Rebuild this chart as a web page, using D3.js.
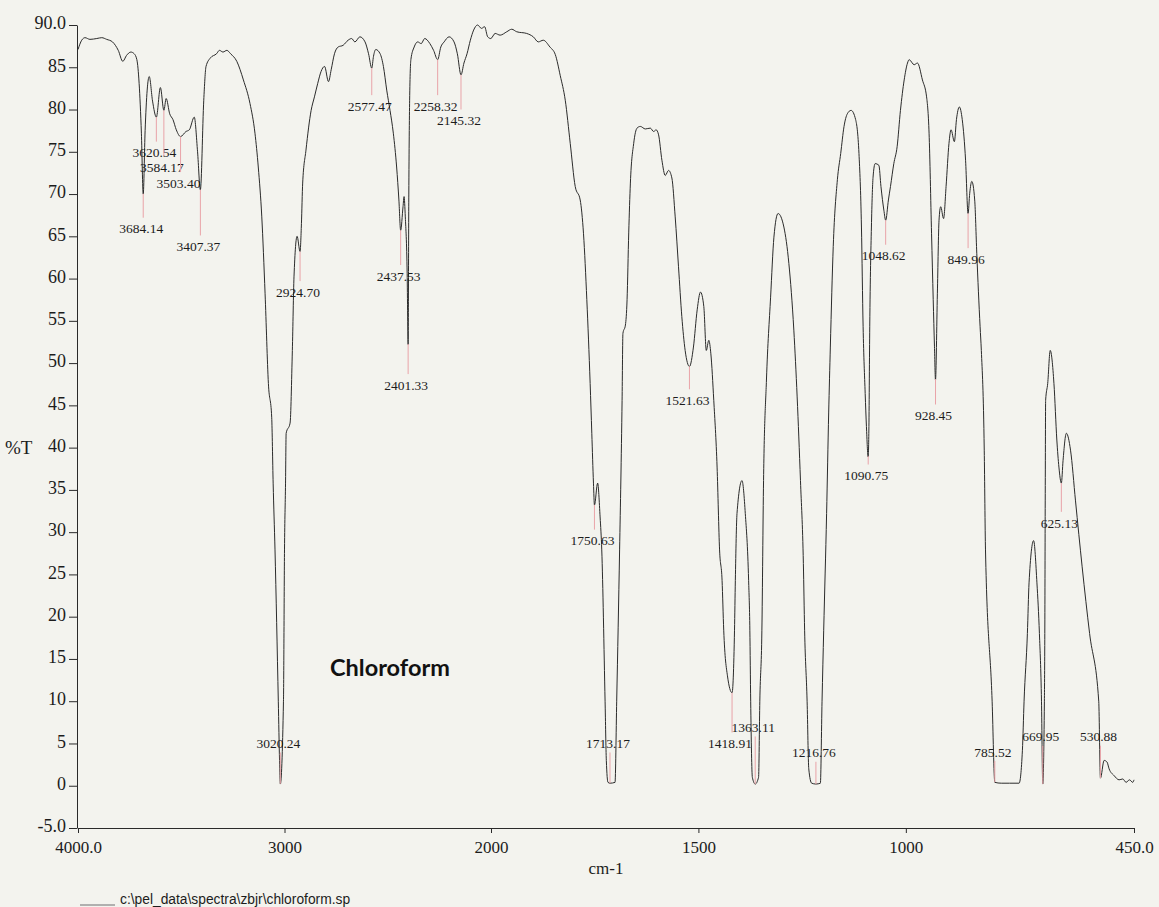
<!DOCTYPE html>
<html>
<head>
<meta charset="utf-8">
<script src="https://cdn.jsdelivr.net/npm/d3@7"></script>
<style>
  body { margin: 0; background: #f3f3ee; }
  svg { display: block; }
  text { font-family: "Liberation Serif", "Times New Roman", serif; fill: #1c1c1c; }
</style>
</head>
<body>
<svg id="chart" width="1159" height="907"></svg>
<script>
// [wavenumber cm-1, %T]
const spectrum = [
  [4000, 87.1], [3982, 88.2], [3966, 88.5], [3942, 88.3], [3909, 88.4], [3885, 88.5], [3861, 88.3],
  [3833, 88.0], [3805, 87.0], [3783, 85.7], [3765, 86.4], [3744, 86.8], [3728, 86.6], [3715, 85.9],
  [3704, 83.1], [3693, 77.2], [3684.1, 70.0], [3675, 77.5], [3655, 83.9], [3639, 81.0], [3620.5, 79.1],
  [3601, 82.6], [3584.2, 79.9], [3573, 81.3], [3556, 79.5], [3540, 78.8], [3524, 77.6], [3503.4, 76.8],
  [3477, 77.4], [3461, 77.6], [3437, 79.1], [3421, 75.0], [3407.4, 70.5], [3391, 81.1], [3380, 85.1],
  [3359, 86.1], [3329, 86.6], [3315, 87.0], [3298, 86.8], [3279, 87.0], [3261, 86.6], [3231, 85.7],
  [3199, 83.5], [3167, 80.7], [3143, 77.2], [3127, 73.2], [3110, 67.3], [3094, 58.2], [3078, 47.6],
  [3062, 43.6], [3055, 35.8], [3046, 27.9], [3030, 10], [3024, 3], [3020.2, 0.2], [3005, 10],
  [3000, 27.9], [2995, 35.8], [2992, 41.7], [2973, 42.9], [2962, 51.5], [2954, 60.2], [2939, 65.0],
  [2924.7, 63.2], [2918, 66.5], [2912, 71.3], [2896, 75.2], [2871, 79.9], [2855, 81.5], [2839, 83.1],
  [2823, 84.5], [2806, 85.1], [2787, 83.3], [2774, 84.7], [2758, 86.6], [2740, 87.4], [2716, 87.6],
  [2692, 88.2], [2675, 88.4], [2659, 88.0], [2635, 88.6], [2610, 88.0], [2593, 86.6], [2577.5, 84.9],
  [2569, 86.3], [2558, 87.1], [2537, 86.6], [2521, 85.1], [2505, 82.3], [2489, 79.9], [2473, 77.2],
  [2457, 73.2], [2446, 69.3], [2437.5, 65.7], [2426, 68.5], [2421, 69.7], [2415, 67.3], [2406, 60.6],
  [2401.3, 52.2], [2398, 70], [2394, 81.1], [2388, 85.9], [2372, 87.4], [2355, 88.0], [2338, 87.8],
  [2321, 88.4], [2296, 87.8], [2278, 87.0], [2258.3, 85.9], [2243, 87.4], [2227, 88.0], [2203, 88.6],
  [2179, 88.0], [2163, 86.6], [2145.3, 84.1], [2131, 85.5], [2116, 86.6], [2100, 88.2], [2084, 89.4],
  [2065, 90.0], [2046, 89.6], [2031, 89.8], [2016, 88.6], [2001, 88.4], [1990, 89.0], [1978, 88.8],
  [1962, 89.2], [1950, 89.5], [1938, 89.2], [1914, 89.0], [1898, 88.6], [1886, 88.0], [1874, 88.2],
  [1858, 87.4], [1845, 86.5], [1833, 84.0], [1821, 81.1], [1809, 76.0], [1797, 70.9], [1785, 69.3],
  [1777, 65.3], [1769, 57.5], [1761, 47.6], [1757, 41.7], [1753, 35.8], [1750.6, 33.2], [1743, 35.8],
  [1737, 31.8], [1733, 27.9], [1725, 10], [1722, 3], [1718, 0.4], [1713.2, 0.3], [1701, 0.4],
  [1697, 10], [1690, 27.9], [1684, 45.6], [1682, 53.5], [1676, 54.5], [1672, 57.5], [1668, 65.4],
  [1664, 71.3], [1656, 76.0], [1648, 77.8], [1640, 78.0], [1628, 77.7], [1616, 77.8], [1608, 77.4],
  [1602, 77.6], [1596, 77.0], [1588, 74.0], [1580, 72.2], [1572, 72.8], [1564, 71.9], [1556, 67.3],
  [1548, 61.4], [1540, 55.5], [1532, 51.5], [1521.6, 49.6], [1512, 51.9], [1503, 56.3], [1495, 58.4],
  [1487, 56.7], [1481, 51.5], [1475, 52.7], [1470, 51.1], [1463, 45.6], [1455, 37.7], [1449, 27.9],
  [1443, 24.3], [1439, 18.4], [1430, 13], [1418.9, 11], [1413, 18.4], [1411, 24.3], [1407, 32.2],
  [1395, 36.1], [1387, 32.2], [1379, 24.3], [1376, 18.4], [1374, 10], [1370, 1], [1363.1, 0.2],
  [1355, 1], [1352, 10], [1347, 18.4], [1343, 36.1], [1336, 48], [1326, 57.8], [1318, 64.9],
  [1308, 67.7], [1294, 66.1], [1282, 61.8], [1270, 53.9], [1262, 46.0], [1254, 36.1], [1247, 26.3],
  [1244, 18.4], [1238, 10], [1234, 2], [1227, 0.3], [1216.8, 0.2], [1206, 0.3], [1202, 10],
  [1198, 18.4], [1191, 32.2], [1186, 44.1], [1182, 51.9], [1175, 63.8], [1165, 71.7], [1157, 74.8],
  [1149, 78.0], [1141, 79.5], [1132, 79.9], [1121, 78.8], [1113, 74.8], [1107, 66.1], [1103, 54.3],
  [1098, 46.4], [1095, 42.5], [1090.8, 38.9], [1089, 42.5], [1087, 54.3], [1083, 66.1], [1079, 72.0],
  [1074, 73.6], [1065, 73.4], [1060, 70.9], [1053, 68.1], [1048.6, 66.9], [1042, 69.3], [1037, 70.9],
  [1029, 73.6], [1021, 75.6], [1013, 79.9], [1004, 83.5], [996, 85.5], [992, 85.9], [980, 85.3],
  [972, 85.5], [960, 83.5], [950, 81.5], [944, 77.2], [938, 65.3], [934, 57.5], [931, 52],
  [928.5, 48.0], [924, 58.2], [920, 66.9], [916, 68.5], [909, 67.1], [903, 70.9], [896, 76.0],
  [891, 77.6], [883, 76.2], [878, 78.8], [871, 80.3], [864, 78.8], [856, 74.0], [850, 67.7],
  [846, 70.1], [841, 71.5], [834, 69.3], [829, 63.0], [821, 54.3], [818, 51.5], [811, 39.7],
  [808, 27.9], [792, 10], [785.5, 0.4], [770, 0.3], [750, 0.3], [727, 0.3], [719, 4.2],
  [715, 10], [707, 18], [703, 24], [692, 29.0], [684, 24], [678, 18], [673, 10], [669.95, 0.2],
  [666, 10], [665, 18], [664, 33.7], [663, 45.6], [658, 47.6], [652, 51.5], [643, 47.6], [636, 40.9],
  [631, 37.7], [625.1, 35.8], [621, 38.5], [613, 41.7], [603, 39.7], [591, 33.7], [575, 25.9],
  [557, 18.0], [535, 10], [530.9, 0.9], [522, 3.0], [515, 2.8], [510, 2.0], [498, 1.2], [486, 0.7],
  [477, 0.8], [469, 0.4], [461, 0.7], [453, 0.4], [450, 0.7]
];

// peak picks and the %T level their label sits at
const peakWavenumbers = [3684.14, 3620.54, 3584.17, 3503.40, 3407.37, 3020.24, 2924.70, 2577.47,
  2437.53, 2401.33, 2258.32, 2145.32, 1750.63, 1713.17, 1521.63, 1418.91, 1363.11, 1216.76,
  1090.75, 1048.62, 928.45, 849.96, 785.52, 669.95, 625.13, 530.88];
const peakLabelLevels = [65.9, 74.9, 73.2, 71.3, 63.8, 5.0, 58.4, 80.4,
  60.3, 47.4, 80.4, 78.7, 29.0, 5.0, 45.6, 5.0, 6.9, 3.9,
  36.7, 62.7, 43.8, 62.3, 4.0, 5.8, 31.1, 5.8];

const xTicks = [4000, 3000, 2000, 1500, 1000, 450];
const xTickLabels = ["4000.0", "3000", "2000", "1500", "1000", "450.0"];
const yTicks = [90, 85, 80, 75, 70, 65, 60, 55, 50, 45, 40, 35, 30, 25, 20, 15, 10, 5, 0, -5];
const yTickLabels = ["90.0", "85", "80", "75", "70", "65", "60", "55", "50", "45", "40", "35",
  "30", "25", "20", "15", "10", "5", "0", "-5.0"];

const svg = d3.select("#chart");

// instrument plots 4000-2000 at half the scale of 2000-450
const x = d3.scaleLinear().domain([4000, 2000, 450]).range([78, 491, 1134]);
const y = d3.scaleLinear().domain([-5, 90]).range([828, 25]);

const axisColor = "#2a2a2a";

// y axis
const yAxis = svg.append("g")
  .attr("transform", "translate(77,0)")
  .call(d3.axisLeft(y).tickValues(yTicks).tickSize(8).tickSizeOuter(0).tickPadding(3)
    .tickFormat((d, i) => yTickLabels[i]));
yAxis.select(".domain").attr("stroke", axisColor);
yAxis.selectAll(".tick line").attr("stroke", axisColor);
yAxis.selectAll("text")
  .style("font-family", "'Liberation Serif', serif")
  .style("font-size", "18px")
  .attr("fill", "#1c1c1c")
  .attr("y", -2);

// x axis
const xAxis = svg.append("g")
  .attr("transform", "translate(0,828)")
  .call(d3.axisBottom(x).tickValues(xTicks).tickSize(5).tickSizeOuter(0)
    .tickFormat((d, i) => xTickLabels[i]));
xAxis.select(".domain").attr("stroke", axisColor);
xAxis.selectAll(".tick line").attr("stroke", axisColor);
xAxis.selectAll("text")
  .style("font-family", "'Liberation Serif', serif")
  .style("font-size", "17px")
  .attr("fill", "#1c1c1c")
  .attr("y", 19)
  .attr("dy", "0.35em");

svg.append("text")
  .attr("x", 606).attr("y", 868).attr("dy", "0.35em")
  .attr("text-anchor", "middle")
  .style("font-size", "17px")
  .text("cm-1");

svg.append("text")
  .attr("x", 5).attr("y", y(40)).attr("dy", "0.35em")
  .style("font-size", "19px")
  .text("%T");

// the spectrum
const line = d3.line()
  .x(d => x(d[0]))
  .y(d => y(d[1]))
  .curve(d3.curveMonotoneX);

svg.append("path")
  .datum(spectrum)
  .attr("fill", "none")
  .attr("stroke", "#2b2b2b")
  .attr("stroke-width", 1)
  .attr("stroke-linejoin", "round")
  .attr("d", line);

// %T of the trace at a wavenumber
const desc = spectrum.slice().reverse();
const bis = d3.bisector(d => d[0]).left;
function traceAt(w) {
  const i = bis(desc, w);
  if (i <= 0) return desc[0][1];
  if (i >= desc.length) return desc[desc.length - 1][1];
  const a = desc[i - 1], b = desc[i];
  return a[1] + (b[1] - a[1]) * (w - a[0]) / (b[0] - a[0]);
}

// peak markers and labels
const peaks = peakWavenumbers.map((w, i) => ({w: w, level: peakLabelLevels[i], t: traceAt(w)}));

const pk = svg.append("g").selectAll("g")
  .data(peaks)
  .enter().append("g");

pk.append("line")
  .attr("x1", d => x(d.w))
  .attr("x2", d => x(d.w))
  .attr("y1", d => y(d.t))
  .attr("y2", d => d.level < d.t ? y(d.level) - 11 : y(d.level) + 9)
  .attr("stroke", "#e9a3a8")
  .attr("stroke-width", 1);

pk.append("text")
  .attr("x", d => x(d.w) - 2)
  .attr("y", d => y(d.level))
  .attr("dy", "0.35em")
  .attr("text-anchor", "middle")
  .style("font-size", "13.5px")
  .text(d => d.w.toFixed(2));

svg.append("text")
  .attr("x", 330).attr("y", 668).attr("dy", "0.35em")
  .style("font-family", "Lato, 'Open Sans', sans-serif")
  .style("font-weight", "bold")
  .style("font-size", "23.5px")
  .style("fill", "#111")
  .text("Chloroform");

// file path footer
svg.append("line")
  .attr("x1", 80).attr("x2", 115)
  .attr("y1", 905).attr("y2", 905)
  .attr("stroke", "#9a9a9a")
  .attr("stroke-width", 1.5);

svg.append("text")
  .attr("x", 120).attr("y", 899).attr("dy", "0.35em")
  .style("font-family", "'Liberation Sans', Arial, sans-serif")
  .style("font-size", "13.8px")
  .text("c:\\pel_data\\spectra\\zbjr\\chloroform.sp");
</script>
</body>
</html>
